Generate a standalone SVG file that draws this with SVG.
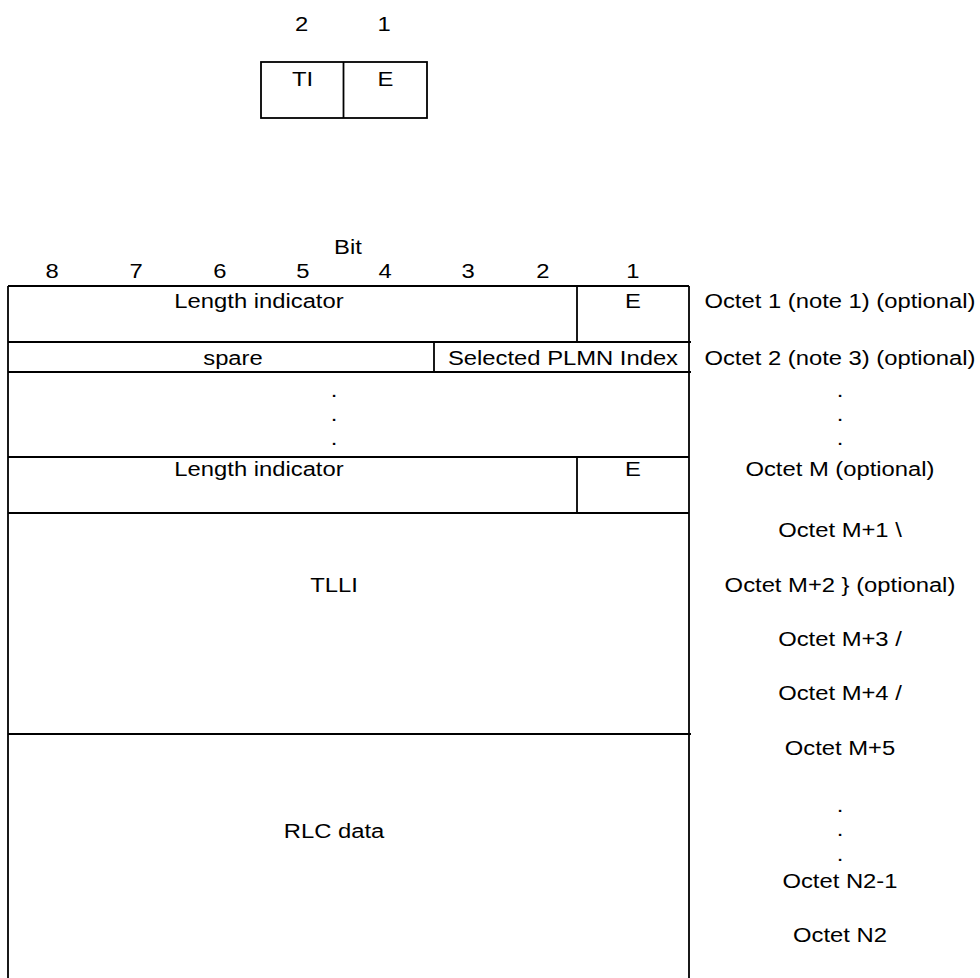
<svg xmlns="http://www.w3.org/2000/svg" width="980" height="978" viewBox="0 0 980 978">
<style>
text{font-family:"Liberation Sans",Arial,sans-serif;font-size:20px;fill:#000;text-anchor:middle}
.ln{stroke:#000;stroke-width:1.8;fill:none}
</style>
<rect width="980" height="978" fill="#fff"/>
<g id="small-box">
<rect class="ln" x="261" y="62" width="166" height="56"/>
<line class="ln" x1="343.5" y1="62" x2="343.5" y2="118"/>
</g>
<g id="connectors">
<line class="ln" x1="8" y1="286" x2="8" y2="978"/>
<line class="ln" x1="689" y1="286" x2="689" y2="978"/>
<line class="ln" x1="8" y1="286" x2="689" y2="286"/>
<line class="ln" x1="8" y1="342" x2="691" y2="342"/>
<line class="ln" x1="8" y1="372" x2="691" y2="372"/>
<line class="ln" x1="8" y1="457" x2="689" y2="457"/>
<line class="ln" x1="8" y1="513" x2="689" y2="513"/>
<line class="ln" x1="8" y1="734" x2="691" y2="734"/>
<line class="ln" x1="577" y1="286" x2="577" y2="342"/>
<line class="ln" x1="434" y1="342" x2="434" y2="372"/>
<line class="ln" x1="577" y1="457" x2="577" y2="513"/>
</g>
<g transform="scale(1.19 1)">
<g id="small-header">
<text x="253.36" y="31">2</text>
<text x="322.69" y="31">1</text>
</g>
<g id="small-box-labels">
<text x="254.2" y="86">TI</text>
<text x="323.95" y="86">E</text>
</g>
<g id="bit-header">
<text x="292.44" y="254">Bit</text>
<text x="43.7" y="278">8</text>
<text x="114.29" y="278">7</text>
<text x="184.87" y="278">6</text>
<text x="254.62" y="278">5</text>
<text x="323.53" y="278">4</text>
<text x="393.28" y="278">3</text>
<text x="456.3" y="278">2</text>
<text x="531.93" y="278">1</text>
</g>
<g id="row-octet1">
<text x="217.65" y="308">Length indicator</text>
<text x="531.93" y="308">E</text>
<text x="705.88" y="308">Octet 1 (note 1) (optional)</text>
</g>
<g id="row-octet2">
<text x="195.8" y="365">spare</text>
<text x="473.11" y="365">Selected PLMN Index</text>
<text x="705.88" y="365">Octet 2 (note 3) (optional)</text>
</g>
<g id="row-dots">
<text x="280.67" y="397">.</text>
<text x="280.67" y="421">.</text>
<text x="280.67" y="445">.</text>
<text x="705.88" y="397">.</text>
<text x="705.88" y="421">.</text>
<text x="705.88" y="445">.</text>
</g>
<g id="row-octetM">
<text x="217.65" y="476">Length indicator</text>
<text x="531.93" y="476">E</text>
<text x="705.88" y="476">Octet M (optional)</text>
</g>
<g id="row-tlli">
<text x="280.67" y="592">TLLI</text>
<text x="705.88" y="537">Octet M+1 \</text>
<text x="705.88" y="592">Octet M+2 } (optional)</text>
<text x="705.88" y="646">Octet M+3 /</text>
<text x="705.88" y="700">Octet M+4 /</text>
</g>
<g id="row-rlc">
<text x="280.67" y="838">RLC data</text>
<text x="705.88" y="755">Octet M+5</text>
<text x="705.88" y="812">.</text>
<text x="705.88" y="836">.</text>
<text x="705.88" y="861">.</text>
<text x="705.88" y="888">Octet N2-1</text>
<text x="705.88" y="942">Octet N2</text>
</g>
</g>
</svg>
